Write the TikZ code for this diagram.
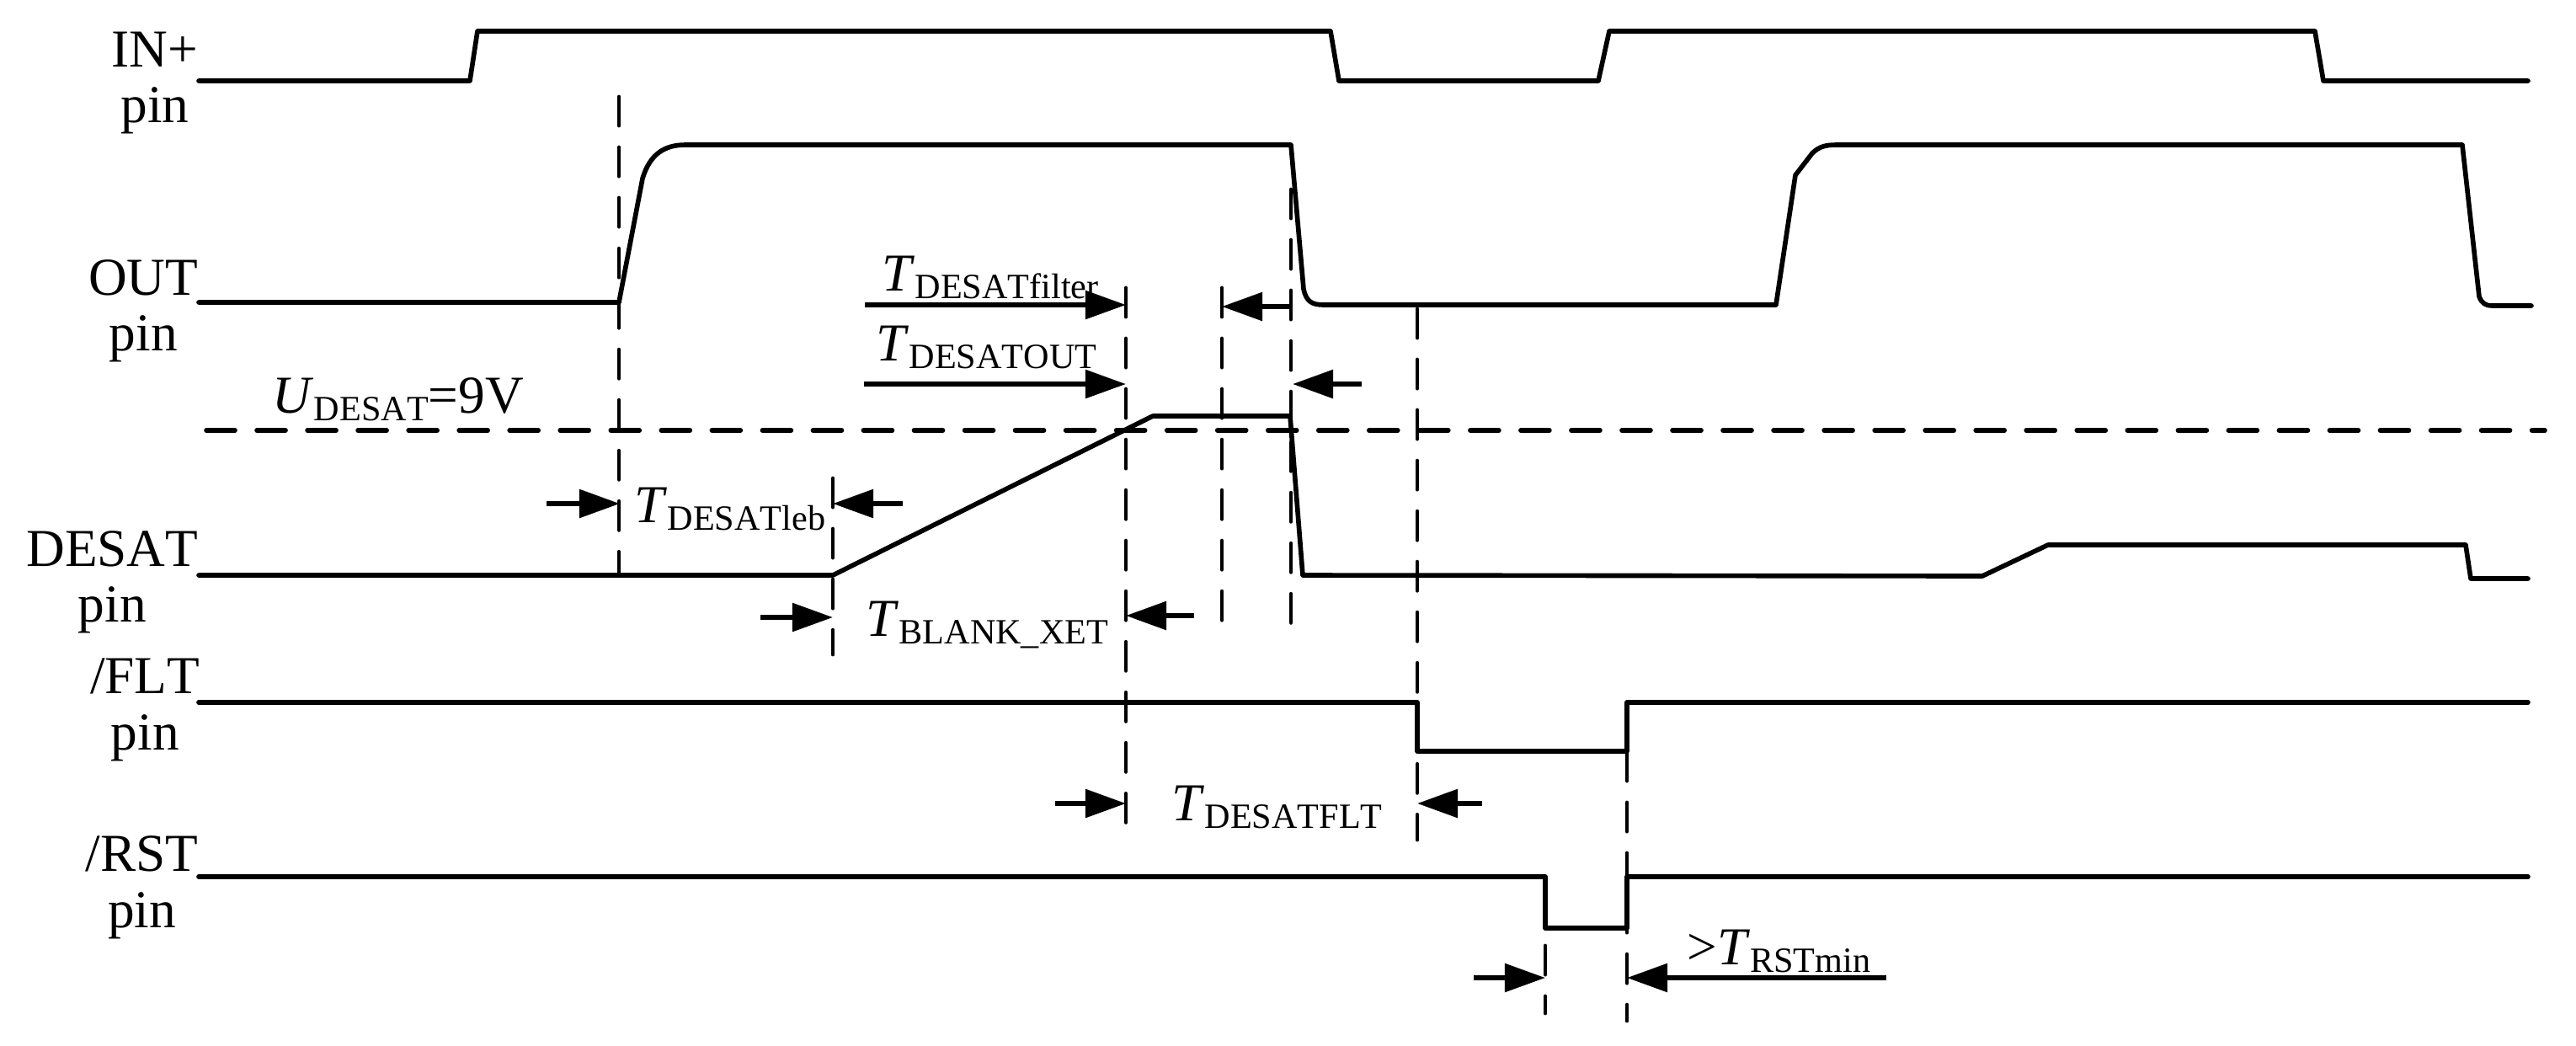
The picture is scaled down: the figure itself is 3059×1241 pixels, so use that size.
\documentclass[tikz,border=0pt]{standalone}
\usepackage{fontspec}
\setmainfont{Liberation Serif}[Kerning=Off]
\usetikzlibrary{arrows.meta}
\tikzset{
  sig/.style={line width=1.6pt, line cap=round, line join=round},
  guide/.style={line width=1.4pt, line cap=round, dash pattern=on 3.4mm off 2.6mm},
  thresh/.style={line width=1.6pt, line cap=round, dash pattern=on 3.4mm off 2.6mm},
  dim/.style={line width=1.6pt, -{Triangle[length=4.8mm,width=3.3mm]}},
  lbl/.style={inner sep=0pt, font=\fontsize{18}{19}\selectfont},
}
\newcommand{\tsig}[2]{\textit{#1}{\fontsize{12}{12}\selectfont\raisebox{-2.8pt}{#2}}}
\begin{document}
\begin{tikzpicture}[x=0.01cm, y=-0.01cm]
  \useasboundingbox (0,0) rectangle (3059,1241);
  % pin names
  \node[lbl, anchor=base east] (inp) at (236,79) {IN+};
  \node[lbl, anchor=base] (inppin) at ([yshift=-0.66cm]inp.base) {pin};
  \node[lbl, anchor=base east] (out) at (236,350) {OUT};
  \node[lbl, anchor=base] (outpin) at ([yshift=-0.66cm]out.base) {pin};
  \node[lbl, anchor=base east] (desat) at (236,672) {DESAT};
  \node[lbl, anchor=base] (desatpin) at ([yshift=-0.66cm]desat.base) {pin};
  \node[lbl, anchor=base east] (flt) at (238,823) {/FLT};
  \node[lbl, anchor=base] (fltpin) at ([yshift=-0.67cm]flt.base) {pin};
  \node[lbl, anchor=base east] (rst) at (236,1034) {/RST};
  \node[lbl, anchor=base] (rstpin) at ([yshift=-0.67cm]rst.base) {pin};
  % IN+
  \draw[sig] (236,96) -- (558,96) -- (567,37) -- (1580,37) -- (1590,96) -- (1898,96)
    -- (1911,37) -- (2749,37) -- (2759,96) -- (3002,96);
  % OUT
  \draw[sig] (236,359) -- (735,359) -- (763,212) .. controls (772,182) and (790,172) .. (814,172)
    -- (1533,172) -- (1548,343) .. controls (1551,358) and (1558,362) .. (1572,362) -- (2109,362)
    -- (2132,208) -- (2152,182) .. controls (2160,174) and (2168,172) .. (2181,172) -- (2924,172)
    -- (2944,352) .. controls (2947,360) and (2951,363) .. (2960,363) -- (3006,363);
  % U_DESAT
  \draw[thresh] (245,511) -- (3022,511);
  \node[lbl, anchor=base west] (udesat) at (323,490) {\tsig{U}{DESAT}=9V};
  % DESAT
  \draw[sig] (236,683) -- (989,683) -- (1369,494) -- (1532,494) -- (1547,683) -- (2354,684)
    -- (2432,647) -- (2928,647) -- (2934,687) -- (3002,687);
  % /FLT
  \draw[sig] (236,834) -- (1683,834) -- (1683,892) -- (1932,892) -- (1932,834) -- (3002,834);
  % /RST
  \draw[sig] (236,1041) -- (1835,1041) -- (1835,1102) -- (1932,1102) -- (1932,1041) -- (3002,1041);
  % guide lines
  \foreach \x/\ya/\yb in {735/115/683, 989/568/777, 1337/342/980, 1451/342/762,
                          1533/225/745, 1683/367/997, 1835/1123/1203, 1932/893/1212}{
    \draw[guide] (\x,\ya) -- (\x,\yb);
  }
  % timing arrows
  \draw[dim] (1027,362) -- (1337,362);
  \draw[dim] (1533,364) -- (1451,364);
  \draw[dim] (1026,456) -- (1337,456);
  \draw[dim] (1617,456) -- (1535,456);
  \draw[dim] (649,598) -- (736,598);
  \draw[dim] (1072,598) -- (989,598);
  \draw[dim] (903,733) -- (989,733);
  \draw[dim] (1418,731) -- (1337,731);
  \draw[dim] (1253,954) -- (1337,954);
  \draw[dim] (1760,954) -- (1683,954);
  \draw[dim] (1750,1161) -- (1835,1161);
  \draw[dim] (2240,1161) -- (1932,1161);
  % timing labels
  \node[lbl, anchor=base west] (tfilter) at (1047,345) {\tsig{T}{DESATfilter}};
  \node[lbl, anchor=base west] (tout) at (1040,428) {\tsig{T}{DESATOUT}};
  \node[lbl, anchor=base west] (tleb) at (753,620) {\tsig{T}{DESATleb}};
  \node[lbl, anchor=base west] (tblank) at (1028,755) {\tsig{T}{BLANK\_XET}};
  \node[lbl, anchor=base west] (tflt) at (1391,974) {\tsig{T}{DESATFLT}};
  \node[lbl, anchor=base west] (trst) at (2003,1145) {>\tsig{T}{RSTmin}};
\end{tikzpicture}
\end{document}
